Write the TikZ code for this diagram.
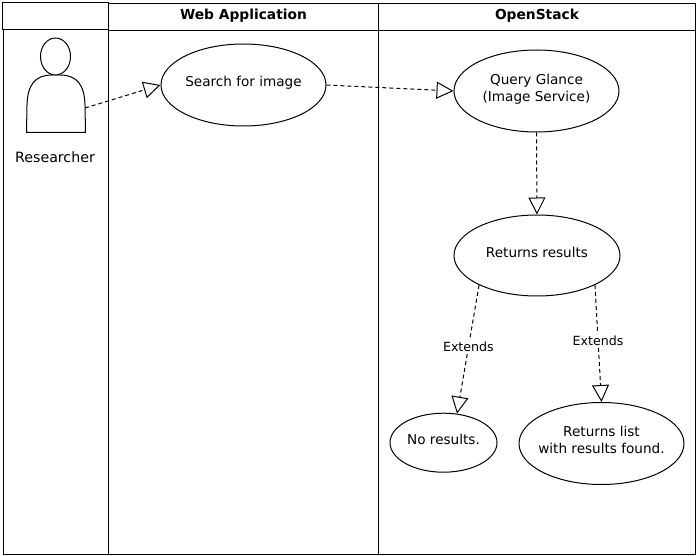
\documentclass[tikz,border=0pt]{standalone}
\usepackage{fontspec}
\setmainfont{DejaVu Sans}
\usetikzlibrary{shapes.geometric,arrows.meta}
\newcommand{\uctext}[1]{\raisebox{-3.5pt}{\smash{\makebox[0pt][c]{\begin{tabular}{@{}c@{}}#1\end{tabular}}}}}
\tikzset{
  usecase/.style={draw=black,line width=1pt,ellipse,inner sep=0pt,fill=white,align=center,font=\fontsize{13.6}{17}\selectfont},
  lanebox/.style={draw=black,line width=1pt},
  lanetitle/.style={font=\bfseries\fontsize{13.8}{16}\selectfont,inner sep=0pt},
  flow/.style={draw=black,line width=1pt,dash pattern=on 4pt off 3pt,-{Triangle[open,length=17pt,width=17pt,line width=1pt]}},
  extlabel/.style={fill=white,font=\fontsize{12.6}{14}\selectfont,inner sep=2pt},
  plainlabel/.style={font=\fontsize{14.2}{16}\selectfont,inner sep=0pt},
  figure/.style={draw=black,line width=1pt,fill=white}
}
\begin{document}
\begin{tikzpicture}[x=1pt,y=-1pt]
\useasboundingbox (0,0) rectangle (697,556);
\fill[white] (0,0) rectangle (697,556);
% lanes
\draw[lanebox] (3.5,3.5) rectangle (108.5,554.5);
\draw[lanebox] (108.5,3.5) rectangle (378.5,554.5);
\draw[lanebox] (378.5,3.5) rectangle (695.5,554.5);
\draw[lanebox] (108.5,30.5) -- (695.5,30.5);
\draw[lanebox,fill=white] (2.5,2.5) rectangle (108.5,29.5);
\node[lanetitle] (web) at (243.5,15.5) {Web Application};
\node[lanetitle] (os) at (537,15.5) {OpenStack};
% actor
\draw[figure] (26.5,132.5) -- (27,105) .. controls (27.5,85) and (35,75) .. (52,75) -- (60,75) .. controls (77,75) and (84.5,85) .. (85,105) -- (85.5,132.5) -- cycle;
\node[figure,ellipse,minimum width=30pt,minimum height=37pt,inner sep=0pt] (head) at (55.5,56.5) {};
\node[plainlabel] (researcher) at (55,157) {Researcher};
\coordinate (actor) at (85,108);
% use cases
\node[usecase,minimum width=165pt,minimum height=82pt] (search) at (243.5,85) {\uctext{Search for image}};
\node[usecase,minimum width=165pt,minimum height=82pt] (query) at (536.5,91) {\uctext{Query Glance\\(Image Service)}};
\node[usecase,minimum width=166pt,minimum height=81pt] (returns) at (537,255.5) {\uctext{Returns results}};
\node[usecase,minimum width=107pt,minimum height=59pt] (none) at (443.5,442.7) {\uctext{No results.}};
\node[usecase,minimum width=165pt,minimum height=82pt] (list) at (601.5,443.5) {\uctext{Returns list\\with results found.}};
% connectors
\draw[flow] (actor) -- (search.west);
\draw[flow] (search.east) -- (query.west);
\draw[flow] (query.south) -- (returns.north);
\draw[flow] (returns.207.5) -- node[extlabel,pos=.484] (ext1) {Extends} (none.65.6);
\draw[flow] (returns.-27.5) -- node[extlabel,pos=.475] (ext2) {Extends} (list.north);
\end{tikzpicture}
\end{document}
